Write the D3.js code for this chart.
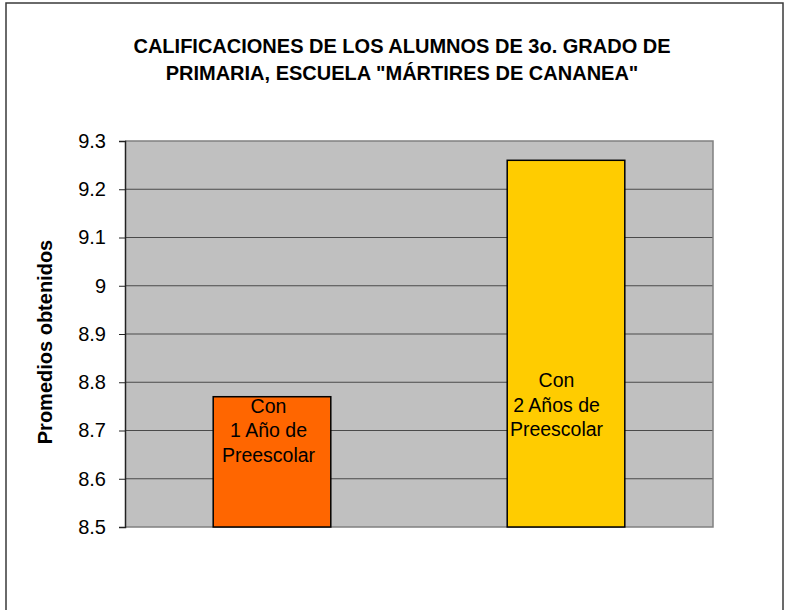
<!DOCTYPE html>
<html>
<head>
<meta charset="utf-8">
<script src="https://cdn.jsdelivr.net/npm/d3@7"></script>
<style>
  body { margin: 0; background: #fff; }
  svg { display: block; font-family: Arial, "Liberation Sans", sans-serif; }
</style>
</head>
<body>
<div id="chart"></div>
<script>
// Data
const categories = ["1 año", "2 años"];
const promedios = [8.77, 9.26];
const barColors = ["#FF6600", "#FFCC00"];
const barLabels = [
  ["Con", "1 Año de", "Preescolar"],
  ["Con", "2 Años de", "Preescolar"]
];
const yTicks = [8.5, 8.6, 8.7, 8.8, 8.9, 9, 9.1, 9.2, 9.3];
const titleLines = [
  "CALIFICACIONES DE LOS ALUMNOS DE 3o. GRADO DE",
  "PRIMARIA, ESCUELA \"MÁRTIRES DE CANANEA\""
];
const yTitle = "Promedios obtenidos";

const config = {
  width: 786,
  height: 610,
  margin: { top: 141, right: 73, bottom: 83, left: 125 }
};

const innerW = config.width - config.margin.left - config.margin.right;
const innerH = config.height - config.margin.top - config.margin.bottom;

const svg = d3.select("#chart").append("svg")
  .attr("width", config.width)
  .attr("height", config.height);

// outer chart frame
svg.append("rect")
  .attr("x", 6).attr("y", 3)
  .attr("width", 777).attr("height", 700)
  .attr("fill", "none")
  .attr("stroke", "#3a3a3a")
  .attr("stroke-width", 1.5);

// title
svg.append("text")
  .attr("text-anchor", "middle")
  .attr("font-size", 20)
  .attr("font-weight", "bold")
  .attr("fill", "#000")
  .selectAll("tspan")
  .data(titleLines)
  .join("tspan")
  .attr("x", 402)
  .attr("y", (d, i) => 53 + i * 27)
  .text(d => d);

const chart = svg.append("g")
  .attr("transform", `translate(${config.margin.left},${config.margin.top})`);

const x = d3.scaleBand()
  .domain(categories)
  .range([0, innerW])
  .paddingInner(0.6)
  .paddingOuter(0.3);

const y = d3.scaleLinear()
  .domain([8.5, 9.3])
  .range([innerH, 0]);

// plot background
chart.append("rect")
  .attr("width", innerW)
  .attr("height", innerH)
  .attr("fill", "#C0C0C0");

// gridlines
chart.append("g")
  .selectAll("line")
  .data(yTicks.slice(1, -1))
  .join("line")
  .attr("x1", 0).attr("x2", innerW)
  .attr("y1", d => y(d)).attr("y2", d => y(d))
  .attr("stroke", "#4a4a4a")
  .attr("stroke-width", 1);

// plot frame (top, right, bottom in gray)
chart.append("path")
  .attr("d", `M0,0H${innerW}V${innerH}H0`)
  .attr("fill", "none")
  .attr("stroke", "#808080")
  .attr("stroke-width", 1.5);

// bars
chart.selectAll(".bar")
  .data(promedios)
  .join("rect")
  .attr("class", "bar")
  .attr("x", (d, i) => x(categories[i]))
  .attr("y", d => y(d))
  .attr("width", x.bandwidth())
  .attr("height", d => innerH - y(d))
  .attr("fill", (d, i) => barColors[i])
  .attr("stroke", "#000")
  .attr("stroke-width", 1.5);

// labels inside bars (text boxes placed by hand in the original)
const labelTop = [y(8.77) + 16, y(8.79)];
const labelShift = [-3.5, -9.5];
chart.selectAll(".bar-label")
  .data(barLabels)
  .join("text")
  .attr("class", "bar-label")
  .attr("text-anchor", "middle")
  .attr("font-size", 19.5)
  .attr("fill", "#000")
  .each(function (lines, i) {
    const cx = x(categories[i]) + x.bandwidth() / 2 + labelShift[i];
    d3.select(this).selectAll("tspan")
      .data(lines)
      .join("tspan")
      .attr("x", cx)
      .attr("y", (d, j) => labelTop[i] + j * 24.5)
      .text(d => d);
  });

// y axis
const yAxis = chart.append("g")
  .call(d3.axisLeft(y).tickValues(yTicks).tickSize(6).tickPadding(13)
    .tickFormat(d => d3.format("")(+d.toFixed(1))));
yAxis.select(".domain").attr("stroke", "#222").attr("stroke-width", 1.5);
yAxis.selectAll(".tick line").attr("stroke", "#222");
yAxis.selectAll(".tick text")
  .attr("font-size", 20)
  .attr("font-family", "Arial, 'Liberation Sans', sans-serif")
  .attr("fill", "#000");

// y axis title
svg.append("text")
  .attr("transform", `translate(52,342) rotate(-90)`)
  .attr("text-anchor", "middle")
  .attr("font-size", 20)
  .attr("font-weight", "bold")
  .attr("fill", "#000")
  .text(yTitle);
</script>
</body>
</html>
